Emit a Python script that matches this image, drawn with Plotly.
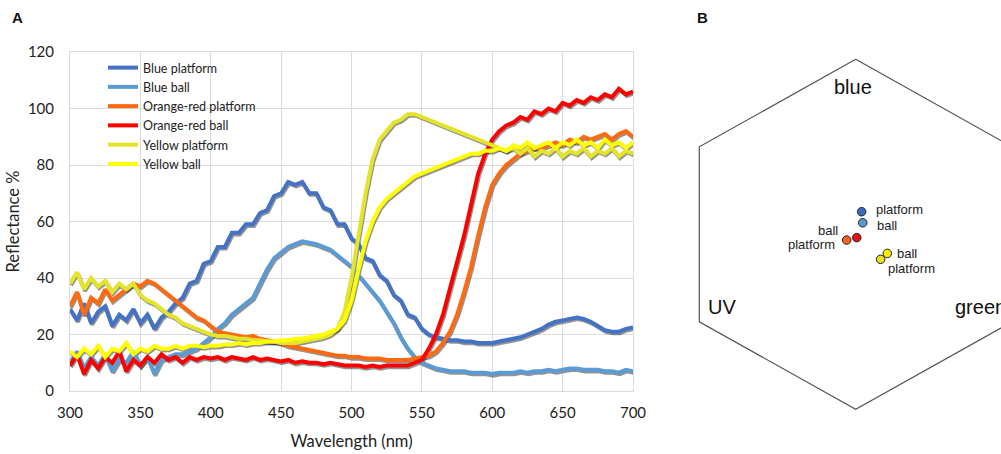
import plotly.graph_objects as go
import numpy as np

# ---------------- Panel A data (reflectance %, every 5 nm) ----------------
wavelength = list(range(300, 705, 5))

blue_platform = [29, 25, 31, 24, 28, 30, 23, 27, 25, 29, 24, 27, 22, 26, 28, 31, 33, 38, 39, 45,
                 46, 51, 51, 56, 56, 59, 59, 63, 64, 69, 70, 74, 73, 74, 70, 70, 65, 64, 59, 59,
                 54, 52, 47, 46, 41, 39, 34, 32, 27, 26, 22, 20, 19, 18.5, 18, 18, 17.5, 17.5, 17, 17,
                 17, 17.5, 18, 18.5, 19, 20, 21, 22, 23.5, 24.5, 25, 25.5, 26, 25.5, 24.5, 23, 21.5, 21, 21, 22,
                 22.5]
blue_ball = [10, 14, 8, 12, 9, 13, 7, 11, 10, 14, 9, 12, 6, 11, 12, 13, 13, 14, 15, 17,
             19, 22, 24, 27, 29, 31, 33, 38, 43, 47, 49, 51, 52, 53, 52.5, 52, 51, 50, 48, 46,
             44, 41, 38, 35, 32, 28, 24, 19, 15, 12, 10, 9, 8, 7.5, 7, 7, 7, 6.5, 6.5, 6.5,
             6, 6.5, 6.5, 6.5, 7, 6.5, 7, 7, 7.5, 7, 7.5, 8, 8, 7.5, 7.5, 7.5, 7, 7, 6.5, 7.5,
             7]
orange_platform = [30, 35, 27, 33, 31, 36, 32, 34, 36, 38, 37, 39, 38, 36, 34, 32, 30, 28, 26, 25,
                   23, 21, 20.5, 20, 19.5, 19, 19.5, 18.5, 18, 17.5, 17, 16, 15.5, 15, 14.5, 14, 13.5, 13, 12.5, 12.5,
                   12, 12, 11.5, 11.5, 11.5, 11, 11, 11, 11, 11.5, 12, 12.5, 14, 17, 21, 27, 35, 44, 55, 65,
                   73, 77, 80, 82, 84, 85, 86, 86, 87, 88, 87, 89, 88, 90, 89, 90, 91, 89, 91, 92,
                   90]
red_ball = [9, 13, 6, 11, 8, 12, 10, 14, 7, 11, 9, 12, 10, 13, 11, 12, 10, 12, 11, 12,
            11.5, 12, 11, 12, 11.5, 11, 12, 11, 11.5, 11, 10.5, 11, 10, 10.5, 10, 10, 9.5, 10, 9.5, 9,
            9, 9, 8.5, 9, 8.5, 9, 9, 9, 9, 10, 11, 15, 20, 27, 36, 46, 55, 66, 77, 84,
            89, 92, 94, 95, 97, 96, 99, 98, 100, 99, 102, 101, 103, 102, 104, 103, 105, 104, 107, 105,
            106]
yellow_platform = [38, 42, 36, 40, 37, 39, 35, 38, 36, 38, 34, 32, 31, 29, 27, 26, 24, 23, 22, 21,
                   20, 19.5, 19.5, 19, 18.5, 18.5, 18, 18, 17.5, 17.5, 17, 17, 17, 17.5, 18, 18.5, 19, 20, 22, 28,
                   40, 55, 70, 82, 89, 92, 95, 96, 98, 98, 97, 96, 95, 94, 93, 92, 91, 90, 89, 88,
                   87, 86, 85, 86, 84, 86, 83, 85, 84, 86, 83, 85, 84, 86, 83, 85, 84, 86, 83, 85,
                   84]
yellow_ball = [14, 12, 15, 13, 16, 12, 15, 14, 17, 13, 15, 14, 16, 15, 15, 16, 15, 16, 16, 15.5,
               16, 16, 16.5, 16.5, 17, 16.5, 17, 17, 17.5, 17.5, 18, 18, 18.5, 18.5, 19, 19.5, 20, 21, 22, 25,
               32, 43, 53, 60, 65, 68, 70, 72, 74, 76, 77, 78, 79, 80, 81, 82, 83, 84, 84, 85,
               85, 86, 85, 87, 86, 88, 86, 87, 88, 86, 88, 87, 89, 87, 88, 86, 89, 87, 88, 86,
               88]

series_names = ["Blue platform", "Blue ball", "Orange-red platform", "Orange-red ball",
                "Yellow platform", "Yellow ball"]
series_values = [blue_platform, blue_ball, orange_platform, red_ball, yellow_platform, yellow_ball]
series_colors = ["#4472C4", "#5B9BD5", "#FF6A10", "#FF0000", "#E4E42A", "#FFFF00"]

x_ticks = [300, 350, 400, 450, 500, 550, 600, 650, 700]
y_ticks = [0, 20, 40, 60, 80, 100, 120]

# ---------------- Panel B data (colour hexagon coordinates) ----------------
hex_labels = ["blue", "UV", "green"]
point_names = ["Blue platform", "Blue ball", "Orange-red platform", "Orange-red ball",
               "Yellow platform", "Yellow ball"]
point_x = [0.033, 0.039, -0.050, 0.006, 0.138, 0.175]
point_y = [0.129, 0.066, -0.033, -0.019, -0.143, -0.109]
point_colors = ["#3A6BC0", "#5B9BD5", "#F26522", "#E8101A", "#E8E020", "#FFF200"]
point_text = ["platform", "ball", "platform", "ball", "platform", "ball"]

W, H = 1001, 454
FONT_A = "Lato"
FONT_B = "Liberation Sans"

fig = go.Figure()

# shadows (base axes, range offset by ~1.5 px)
for vals in series_values:
    fig.add_trace(go.Scatter(x=wavelength, y=vals, mode="lines", xaxis="x", yaxis="y",
                             line=dict(color="#2a2a2a", width=4), opacity=0.5,
                             showlegend=False, hoverinfo="skip"))
# main curves
for name, vals, col in zip(series_names, series_values, series_colors):
    fig.add_trace(go.Scatter(x=wavelength, y=vals, mode="lines", name=name,
                             xaxis="x3", yaxis="y3", line=dict(color=col, width=4)))

# hexagon outline
ang = np.deg2rad(90 + 60 * np.arange(7))
fig.add_trace(go.Scatter(x=np.cos(ang), y=np.sin(ang), mode="lines", xaxis="x2", yaxis="y2",
                         line=dict(color="#555555", width=1.2), showlegend=False, hoverinfo="skip"))
fig.add_trace(go.Scatter(x=point_x, y=point_y, mode="markers", xaxis="x2", yaxis="y2",
                         marker=dict(size=8.5, color=point_colors, line=dict(color="#222222", width=1)),
                         showlegend=False, text=point_names))

# geometry of panel A in pixels
ax_l, ax_r, ax_t, ax_b = 70, 633, 52, 391
xdomA = [ax_l / W, ax_r / W]
ydomA = [(H - ax_b) / H, (H - ax_t) / H]
px_per_nm = (ax_r - ax_l) / 400.0
px_per_unit = (ax_b - ax_t) / 120.0
dx = 1.0 / px_per_nm
dy = 1.6 / px_per_unit

# panel B geometry
cx, cy, sx, sy = 855.7, 234.3, 180.6, 175.0
bl = 690
xdomB = [bl / W, 1.0]
xrB = [(bl - cx) / sx, (W - cx) / sx]
yrB = [(cy - H) / sy, cy / sy]

grid = "#DCDCDC"
fig.update_layout(
    width=W, height=H, margin=dict(l=0, r=0, t=0, b=0),
    paper_bgcolor="white", plot_bgcolor="white",
    font=dict(family=FONT_A, color="#222222"),
    xaxis=dict(domain=xdomA, range=[300 - dx, 700 - dx], visible=False),
    yaxis=dict(domain=ydomA, range=[0 + dy, 120 + dy], visible=False),
    xaxis3=dict(domain=xdomA, range=[300, 700], overlaying="x", anchor="y3", side="bottom",
                tickvals=x_ticks, showgrid=True, gridcolor=grid,
                zeroline=False, showline=True, linecolor=grid, mirror=True,
                tickfont=dict(size=15, family=FONT_A), ticklabelstandoff=8, automargin=False,
                title=dict(text="Wavelength (nm)", font=dict(size=16.5, family=FONT_A), standoff=15)),
    yaxis3=dict(domain=ydomA, range=[0, 120], overlaying="y", anchor="x3", side="left",
                tickvals=y_ticks, showgrid=True, gridcolor=grid,
                zeroline=False, showline=True, linecolor=grid, mirror=True,
                tickfont=dict(size=15, family=FONT_A), ticklabelstandoff=12, automargin=False,
                title=dict(text="Reflectance %", font=dict(size=16.5, family=FONT_A), standoff=4)),
    xaxis2=dict(domain=xdomB, range=xrB, visible=False),
    yaxis2=dict(domain=[0, 1], range=yrB, visible=False),
    legend=dict(x=103 / W, y=1 - 53 / H, xanchor="left", yanchor="top",
                bgcolor="rgba(0,0,0,0)", font=dict(size=12.5, family=FONT_A, color="#222222"),
                tracegroupgap=0),
    showlegend=True,
)

ann = []
# panel letters
ann.append(dict(text="<b>A</b>", x=10 / W, y=1 - 18 / H, xref="paper", yref="paper",
                xanchor="left", yanchor="middle", showarrow=False,
                font=dict(size=15, family=FONT_B, color="#111111")))
ann.append(dict(text="<b>B</b>", x=695 / W, y=1 - 18 / H, xref="paper", yref="paper",
                xanchor="left", yanchor="middle", showarrow=False,
                font=dict(size=15, family=FONT_B, color="#111111")))
# hexagon vertex labels
hex_lab_pos = [(-0.015, 0.842, "center"), (-0.742, -0.414, "center"), (0.539, -0.414, "left")]
for lab, (lx, ly, anc) in zip(hex_labels, hex_lab_pos):
    ann.append(dict(text=lab, x=lx, y=ly, xref="x2", yref="y2", xanchor=anc, yanchor="middle",
                    showarrow=False, font=dict(size=20, family=FONT_B, color="#111111")))
# point labels (offset from their points)
offsets = [(12, 2, "left"), (12, -3, "left"), (-10, -4, "right"), (-17, 7, "right"),
           (5, -9, "left"), (7.5, 0, "left")]
for px_, py_, t, (xs, ys, anc) in zip(point_x, point_y, point_text, offsets):
    ann.append(dict(text=t, x=px_, y=py_, xref="x2", yref="y2", xanchor=anc, yanchor="middle",
                    xshift=xs, yshift=ys, showarrow=False,
                    font=dict(size=13, family=FONT_B, color="#222222")))
fig.update_layout(annotations=ann)

fig.write_html("out.html", config={"displayModeBar": False},
               post_script="document.body.style.margin='0px';")
